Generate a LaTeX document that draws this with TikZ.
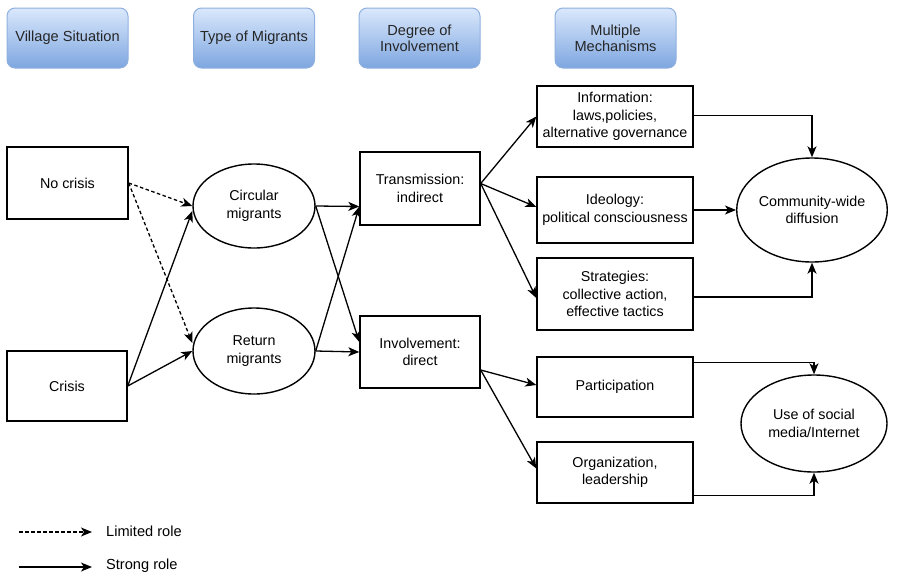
\documentclass[tikz,border=0pt]{standalone}
\usepackage{fontspec}
\setmainfont{Liberation Sans}
\usetikzlibrary{shapes.geometric,arrows.meta,shadings}
\definecolor{hdtop}{HTML}{DAE8FC}
\definecolor{hdbot}{HTML}{7EA6E0}
\definecolor{hdline}{HTML}{8FB0DE}
\begin{document}
\begin{tikzpicture}[x=1pt,y=-1pt,
  every node/.style={font=\fontsize{14.3}{17.5}\selectfont, align=center, inner sep=0pt},
  header/.style={draw=hdline, line width=1pt, rounded corners=8pt, top color=hdtop, bottom color=hdbot, minimum width=121pt, minimum height=60pt, font=\fontsize{14.6}{16}\selectfont, text=black!85},
  box/.style={draw, line width=1.4pt, minimum width=#1, fill=white},
  oval/.style={draw, ellipse, line width=1.4pt, fill=white},
  arr/.style={line width=1.3pt, -{Stealth[length=11pt,width=9pt,inset=3pt]}},
  darr/.style={arr, dash pattern=on 3.5pt off 2.5pt}
]
\path[use as bounding box] (0,0) rectangle (902,576);

% headers
\node[header] (h1) at (67.5,38) {Village Situation};
\node[header] (h2) at (254,38) {Type of Migrants};
\node[header] (h3) at (419.5,38) {Degree of\\Involvement};
\node[header] (h4) at (615.5,38) {Multiple\\Mechanisms};

% village situation
\node[box=121pt, minimum height=72pt] (nc) at (67.5,183) {No crisis};
\node[box=120pt, minimum height=70pt] (cr) at (67,386) {Crisis};

% migrants
\node[oval, minimum width=122pt, minimum height=84pt] (cm) at (254,206) {Circular\\migrants};
\node[oval, minimum width=122pt, minimum height=86pt] (rm) at (254,351) {Return\\migrants};

% involvement
\node[box=120pt, minimum height=73pt] (tr) at (420,188.5) {Transmission:\\indirect};
\node[box=120pt, minimum height=72pt] (inv) at (420,352) {Involvement:\\direct};

% mechanisms
\node[box=156pt, minimum height=61pt] (info) at (615,116.5) {Information:\\laws,policies,\\alternative governance};
\node[box=156pt, minimum height=66pt] (ideo) at (615,210) {Ideology:\\political consciousness};
\node[box=156pt, minimum height=72pt] (strat) at (615,294) {Strategies:\\collective action,\\effective tactics};
\node[box=156pt, minimum height=60pt] (part) at (615,387) {Participation};
\node[box=156pt, minimum height=61pt] (org) at (615,472.5) {Organization,\\leadership};

% outcomes
\node[oval, minimum width=141pt, minimum height=104pt] (comm) at (812,210) {Community-wide\\diffusion};
\node[oval, minimum width=146pt, minimum height=97pt] (use) at (814,423.5) {Use of social\\media/Internet};

% left connectors
\draw[darr] (nc.east) -- (cm.west);
\draw[darr] (nc.east) -- ([yshift=8]rm.west);
\draw[arr] (cr.east) -- ([yshift=-5]cm.west);
\draw[arr] (cr.east) -- (rm.west);

% migrants -> involvement
\draw[arr] (cm.east) -- ([yshift=-18]tr.west);
\draw[arr] (cm.east) -- ([yshift=10]inv.west);
\draw[arr] (rm.east) -- ([yshift=-18]tr.west);
\draw[arr] (rm.east) -- (inv.west);

% involvement -> mechanisms
\draw[arr] ([yshift=5]tr.east) -- (info.west);
\draw[arr] ([yshift=5]tr.east) -- ([yshift=3]ideo.west);
\draw[arr] ([yshift=5]tr.east) -- ([yshift=-4]strat.west);
\draw[arr] ([yshift=-18]inv.east) -- ([yshift=2]part.west);
\draw[arr] ([yshift=-18]inv.east) -- ([yshift=4]org.west);

% mechanisms -> outcomes
\draw[arr] ([yshift=1]info.east) -| (comm.north);
\draw[arr] (ideo.east) -- (comm.west);
\draw[arr] ([yshift=-3]strat.east) -| (comm.south);
\draw[arr] ([yshift=-6]part.north east) -| (use.north);
\draw[arr] ([yshift=8]org.south east) -| (use.south);

% legend
\coordinate (l1a) at (19,532);
\coordinate (l1b) at (92,532);
\coordinate (l2a) at (19,567);
\coordinate (l2b) at (92,567);
\draw[darr] (l1a) -- (l1b);
\draw[arr] (l2a) -- (l2b);
\node[anchor=west, font=\fontsize{14.6}{16}\selectfont] (t1) at (106,531) {Limited role};
\node[anchor=west, font=\fontsize{14.6}{16}\selectfont] (t2) at (106,566) {Strong role};
\end{tikzpicture}
\end{document}
